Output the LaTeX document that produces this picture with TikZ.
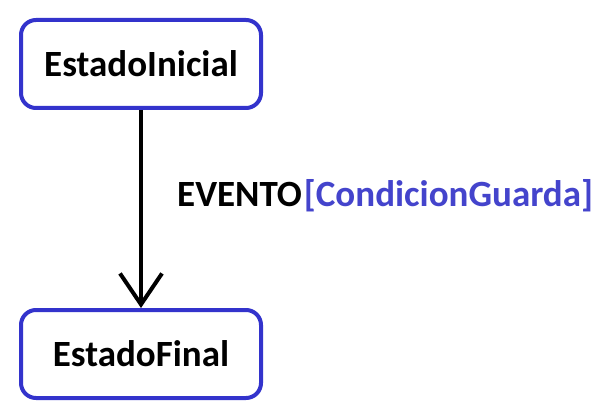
\documentclass[tikz,border=0pt]{standalone}
\usepackage{fontspec}
\setmainfont{Carlito}
\usetikzlibrary{arrows.meta}
\definecolor{boxblue}{RGB}{51,51,204}
\definecolor{guardblue}{RGB}{68,68,204}
\tikzset{
  state/.style={draw=boxblue, line width=4pt, rounded corners=15pt, minimum width=240pt, minimum height=88pt, font=\fontsize{37}{40}\selectfont\bfseries, inner sep=0pt},
  trans/.style={line width=4pt, -{Straight Barb[length=31pt,width=42pt,line width=4pt]}},
  lbl/.style={font=\fontsize{37}{40}\selectfont\bfseries, inner sep=0pt, anchor=base west}
}
\begin{document}
\begin{tikzpicture}[x=1pt,y=-1pt]
\useasboundingbox (0,0) rectangle (596,403);
\node[state] (ini) at (141,64) {EstadoInicial};
\node[state] (fin) at (141,354) {EstadoFinal};
\draw[trans] (ini) -- (fin);
\node[lbl] (ev) at (177,207) {EVENTO\kern2pt\textcolor{guardblue}{[CondicionGuarda]}};
\end{tikzpicture}
\end{document}
